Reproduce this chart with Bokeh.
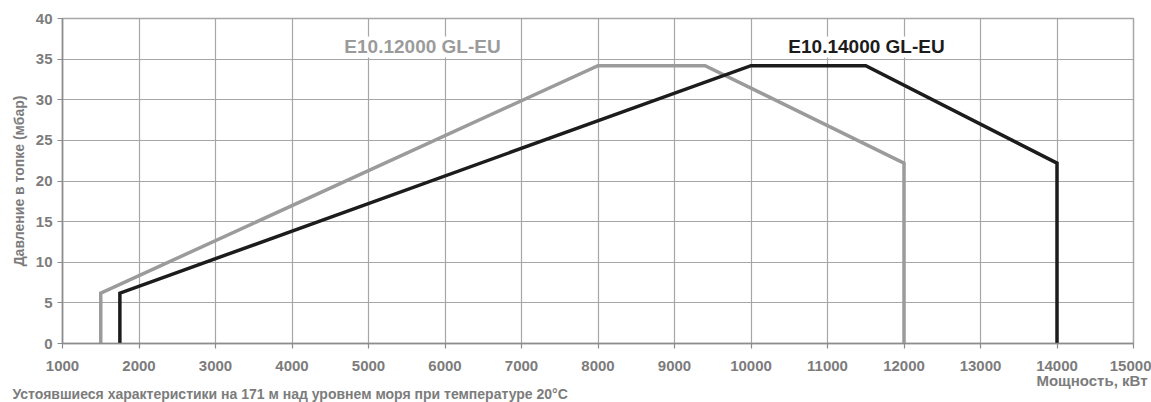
from bokeh.plotting import figure
from bokeh.models import Label, FixedTicker, Range1d, Title
from bokeh.embed import file_html
from bokeh.resources import INLINE

# Data
x_ticks = list(range(1000, 15001, 1000))
y_ticks = list(range(0, 41, 5))

s1_name = "E10.12000 GL-EU"
s1_x = [1500, 1500, 8000, 9400, 12000, 12000]
s1_y = [0, 6.2, 34.2, 34.2, 22.2, 0]

s2_name = "E10.14000 GL-EU"
s2_x = [1750, 1750, 10000, 11500, 14000, 14000]
s2_y = [0, 6.2, 34.2, 34.2, 22.2, 0]

y_title = "Давление в топке (мбар)"
x_title = "Мощность, кВт"
note = "Устоявшиеся характеристики на 171 м над уровнем моря при температуре 20°C"

GRID = "#a6a6a6"
TXT = "#7c7c7c"
GRAY = "#9b9b9b"
BLACK = "#1c1c1c"
FONT = "Liberation Sans"

W, H = 1151, 402
p = figure(width=W, height=H, output_backend="svg", toolbar_location=None,
           x_range=Range1d(1000, 15000), y_range=Range1d(0, 40),
           min_border_left=62, min_border_right=18, min_border_top=18,
           min_border_bottom=59)
p.background_fill_color = "white"
p.border_fill_color = "white"
p.outline_line_color = GRID
p.outline_line_width = 1.5

for ax in (p.xaxis[0], p.yaxis[0]):
    ax.axis_line_color = "#8c8c8c"
    ax.axis_line_width = 1.5
    ax.major_tick_line_color = "#8c8c8c"
    ax.major_tick_line_width = 1.2
    ax.major_tick_in = 0
    ax.major_tick_out = 5
    ax.minor_tick_line_color = None
    ax.major_label_text_font = FONT
    ax.major_label_text_font_style = "bold"
    ax.major_label_text_font_size = "15px"
    ax.major_label_text_color = TXT
    ax.axis_label_text_font = FONT
    ax.axis_label_text_font_style = "bold"
    ax.axis_label_text_color = TXT

p.xaxis[0].ticker = FixedTicker(ticks=x_ticks)
p.yaxis[0].ticker = FixedTicker(ticks=y_ticks)
p.xaxis[0].major_label_standoff = 12
p.yaxis[0].major_label_standoff = 5

p.yaxis[0].axis_label = y_title
p.yaxis[0].axis_label_text_font_size = "14px"
p.yaxis[0].axis_label_standoff = 6

# texts below the x axis
p.add_layout(Title(text=x_title, align="right", offset=-14, standoff=-8,
                   text_font=FONT, text_font_style="bold", text_font_size="15px",
                   text_color=TXT), "below")
p.add_layout(Title(text=note, align="left", offset=-50, standoff=-2,
                   text_font=FONT, text_font_style="bold", text_font_size="14px",
                   text_color=TXT), "below")

p.xgrid.ticker = FixedTicker(ticks=x_ticks)
p.ygrid.ticker = FixedTicker(ticks=y_ticks)
p.grid.grid_line_color = GRID
p.grid.grid_line_width = 1.2

p.line(s1_x, s1_y, line_color=GRAY, line_width=3.5, line_join="miter")
p.line(s2_x, s2_y, line_color=BLACK, line_width=3.5, line_join="miter")

p.add_layout(Label(x=5706, y=36.5, text=s1_name, text_align="center", text_baseline="alphabetic",
                   text_font=FONT, text_font_style="bold", text_font_size="19px",
                   text_color=GRAY, background_fill_color="white"))
p.add_layout(Label(x=11510, y=36.5, text=s2_name, text_align="center", text_baseline="alphabetic",
                   text_font=FONT, text_font_style="bold", text_font_size="19px",
                   text_color=BLACK, background_fill_color="white"))

open("out.html", "w").write(file_html(p, INLINE))
